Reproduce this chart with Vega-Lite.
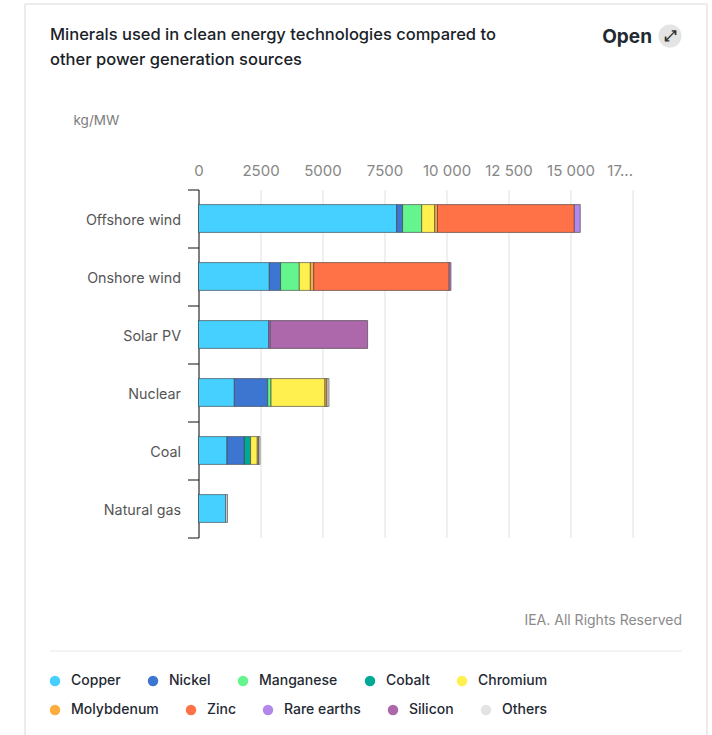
{
  "$schema": "https://vega.github.io/schema/vega-lite/v6.json",
  "width": 434,
  "height": 348,
  "autosize": {"type": "none"},
  "padding": {"left": 198.5, "top": 189.5, "right": 79.5, "bottom": 197.5},
  "background": "#ffffff",
  "title": {
    "text": ["Minerals used in clean energy technologies compared to", "other power generation sources"],
    "anchor": "start",
    "frame": "group",
    "dx": -148.5,
    "dy": 65,
    "offset": 0,
    "font": "Inter",
    "fontSize": 16.5,
    "fontWeight": 500,
    "lineHeight": 25,
    "color": "#1a2228"
  },
  "config": {
    "font": "Inter",
    "view": {"stroke": null}
  },
  "datasets": {
    "minerals": [
      {"source": "Offshore wind", "mineral": "Copper", "rank": 1, "kg": 7990},
      {"source": "Offshore wind", "mineral": "Nickel", "rank": 2, "kg": 240},
      {"source": "Offshore wind", "mineral": "Manganese", "rank": 3, "kg": 770},
      {"source": "Offshore wind", "mineral": "Chromium", "rank": 5, "kg": 525},
      {"source": "Offshore wind", "mineral": "Molybdenum", "rank": 6, "kg": 109},
      {"source": "Offshore wind", "mineral": "Zinc", "rank": 7, "kg": 5520},
      {"source": "Offshore wind", "mineral": "Rare earths", "rank": 8, "kg": 240},
      {"source": "Onshore wind", "mineral": "Copper", "rank": 1, "kg": 2855},
      {"source": "Onshore wind", "mineral": "Nickel", "rank": 2, "kg": 455},
      {"source": "Onshore wind", "mineral": "Manganese", "rank": 3, "kg": 755},
      {"source": "Onshore wind", "mineral": "Chromium", "rank": 5, "kg": 445},
      {"source": "Onshore wind", "mineral": "Molybdenum", "rank": 6, "kg": 135},
      {"source": "Onshore wind", "mineral": "Zinc", "rank": 7, "kg": 5465},
      {"source": "Onshore wind", "mineral": "Rare earths", "rank": 8, "kg": 70},
      {"source": "Solar PV", "mineral": "Copper", "rank": 1, "kg": 2830},
      {"source": "Solar PV", "mineral": "Rare earths", "rank": 8, "kg": 60},
      {"source": "Solar PV", "mineral": "Silicon", "rank": 9, "kg": 3930},
      {"source": "Nuclear", "mineral": "Copper", "rank": 1, "kg": 1445},
      {"source": "Nuclear", "mineral": "Nickel", "rank": 2, "kg": 1345},
      {"source": "Nuclear", "mineral": "Manganese", "rank": 3, "kg": 135},
      {"source": "Nuclear", "mineral": "Chromium", "rank": 5, "kg": 2175},
      {"source": "Nuclear", "mineral": "Molybdenum", "rank": 6, "kg": 80},
      {"source": "Nuclear", "mineral": "Others", "rank": 10, "kg": 80},
      {"source": "Coal", "mineral": "Copper", "rank": 1, "kg": 1150},
      {"source": "Coal", "mineral": "Nickel", "rank": 2, "kg": 700},
      {"source": "Coal", "mineral": "Cobalt", "rank": 4, "kg": 250},
      {"source": "Coal", "mineral": "Chromium", "rank": 5, "kg": 270},
      {"source": "Coal", "mineral": "Molybdenum", "rank": 6, "kg": 50},
      {"source": "Coal", "mineral": "Others", "rank": 10, "kg": 60},
      {"source": "Natural gas", "mineral": "Copper", "rank": 1, "kg": 1100},
      {"source": "Natural gas", "mineral": "Others", "rank": 10, "kg": 70}
    ]
  },
  "layer": [
    {
      "data": {"name": "minerals"},
      "transform": [
        {"stack": "kg", "groupby": ["source"], "sort": [{"field": "rank", "order": "ascending"}], "as": ["kg_start", "kg_end"]},
        {"filter": "datum.rank <= 5"}
      ],
      "mark": {"type": "bar", "height": {"band": 0.48}, "stroke": "#3a3a3a", "strokeWidth": 1, "strokeOpacity": 0.6},
      "encoding": {
        "y": {
          "field": "source",
          "type": "nominal",
          "sort": ["Offshore wind", "Onshore wind", "Solar PV", "Nuclear", "Coal", "Natural gas"],
          "scale": {"domain": ["Offshore wind", "Onshore wind", "Solar PV", "Nuclear", "Coal", "Natural gas"], "paddingInner": 0, "paddingOuter": 0},
          "axis": {
            "title": "kg/MW",
            "titleAngle": 0,
            "titleX": -125.5,
            "titleY": -62.5,
            "titleAlign": "left",
            "titleFont": "Inter",
            "titleFontSize": 13.5,
            "titleFontWeight": 400,
            "titleColor": "#7c7c7c",
            "tickBand": "extent",
            "tickSize": 11,
            "tickColor": "#111111",
            "domainColor": "#111111",
            "labelPadding": 7,
            "labelOffset": 2,
            "labelFontSize": 14.3,
            "labelColor": "#555555",
            "grid": false
          }
        },
        "x": {
          "field": "kg_start",
          "type": "quantitative",
          "scale": {"domain": [0, 17500], "nice": false},
          "axis": {
            "orient": "top",
            "title": null,
            "values": [0, 2500, 5000, 7500, 10000, 12500, 15000, 17500],
            "labelExpr": "datum.value == 17500 ? '17...' : datum.value >= 10000 ? replace(format(datum.value, ','), ',', ' ') : format(datum.value, 'd')",
            "labelAlign": {"condition": {"test": "datum.value == 17500", "value": "right"}, "value": "center"},
            "domain": false,
            "ticks": false,
            "grid": true,
            "gridColor": "#ebebeb",
            "gridWidth": 1.5,
            "labelPadding": 11.5,
            "labelFontSize": 15,
            "labelColor": "#868686",
            "labelFlush": false
          }
        },
        "x2": {"field": "kg_end"},
        "color": {
          "field": "mineral",
          "type": "nominal",
          "scale": {
            "domain": ["Copper", "Nickel", "Manganese", "Cobalt", "Chromium"],
            "range": ["#45d0ff", "#3d76d1", "#64f58f", "#00a896", "#fff04f"]
          },
          "legend": {
            "title": null,
            "orient": "none",
            "direction": "horizontal",
            "legendX": -150.5,
            "legendY": 484.5,
            "columns": 5,
            "columnPadding": 25,
            "symbolType": "circle",
            "symbolSize": 110,
            "symbolStrokeWidth": 0,
            "symbolOpacity": 1,
            "labelFont": "Inter",
            "labelFontSize": 14,
            "labelFontWeight": 500,
            "labelColor": "#1f2a33",
            "labelOffset": 9
          }
        }
      }
    },
    {
      "data": {"name": "minerals"},
      "transform": [
        {"stack": "kg", "groupby": ["source"], "sort": [{"field": "rank", "order": "ascending"}], "as": ["kg_start", "kg_end"]},
        {"filter": "datum.rank > 5"}
      ],
      "mark": {"type": "bar", "height": {"band": 0.48}, "stroke": "#3a3a3a", "strokeWidth": 1, "strokeOpacity": 0.6},
      "encoding": {
        "y": {"field": "source", "type": "nominal"},
        "x": {"field": "kg_start", "type": "quantitative"},
        "x2": {"field": "kg_end"},
        "fill": {
          "field": "mineral",
          "type": "nominal",
          "scale": {
            "domain": ["Molybdenum", "Zinc", "Rare earths", "Silicon", "Others"],
            "range": ["#ffac3e", "#ff7247", "#b388eb", "#ad67ab", "#e3e3e3"]
          },
          "legend": {
            "title": null,
            "orient": "none",
            "direction": "horizontal",
            "legendX": -150.5,
            "legendY": 513.5,
            "columns": 5,
            "columnPadding": 25,
            "symbolType": "circle",
            "symbolSize": 110,
            "symbolStrokeWidth": 0,
            "symbolOpacity": 1,
            "labelFont": "Inter",
            "labelFontSize": 14,
            "labelFontWeight": 500,
            "labelColor": "#1f2a33",
            "labelOffset": 9
          }
        }
      }
    },
    {
      "data": {"values": [{"label": "IEA. All Rights Reserved"}]},
      "mark": {"type": "text", "align": "right", "baseline": "middle", "fontSize": 14, "color": "#8a8a8a"},
      "encoding": {"text": {"field": "label"}, "x": {"value": 483.5}, "y": {"value": 431}}
    },
    {
      "data": {"values": [{"label": "Open"}]},
      "mark": {"type": "text", "align": "right", "baseline": "middle", "fontSize": 19, "fontWeight": 700, "color": "#1f2a33"},
      "encoding": {"text": {"field": "label"}, "x": {"value": 453.5}, "y": {"value": -153}}
    },
    {
      "data": {"values": [{"label": "open"}]},
      "mark": {"type": "point", "shape": "circle", "filled": true, "size": 530, "color": "#e4e4e4", "opacity": 1},
      "encoding": {"x": {"value": 471.5}, "y": {"value": -153.5}}
    },
    {
      "data": {"values": [{"label": "⤢"}]},
      "mark": {"type": "text", "align": "center", "baseline": "middle", "font": "DejaVu Sans", "fontSize": 15, "fontWeight": 700, "color": "#333333"},
      "encoding": {"text": {"field": "label"}, "x": {"value": 471.5}, "y": {"value": -153.5}}
    },
    {
      "data": {"values": [{"label": "divider"}]},
      "mark": {"type": "rule", "color": "#e8e8e8", "strokeWidth": 1},
      "encoding": {"x": {"value": -148.5}, "x2": {"value": 483.5}, "y": {"value": 461.5}}
    },
    {
      "data": {"values": [{"label": "card top"}]},
      "mark": {"type": "rule", "color": "#ececec", "strokeWidth": 2},
      "encoding": {"x": {"value": -173.5}, "x2": {"value": 508.5}, "y": {"value": -185.5}}
    },
    {
      "data": {"values": [{"label": "card left"}]},
      "mark": {"type": "rule", "color": "#ececec", "strokeWidth": 2},
      "encoding": {"x": {"value": -173.5}, "y": {"value": -185.5}, "y2": {"value": 546}}
    },
    {
      "data": {"values": [{"label": "card right"}]},
      "mark": {"type": "rule", "color": "#ececec", "strokeWidth": 2},
      "encoding": {"x": {"value": 508.5}, "y": {"value": -185.5}, "y2": {"value": 546}}
    }
  ]
}
